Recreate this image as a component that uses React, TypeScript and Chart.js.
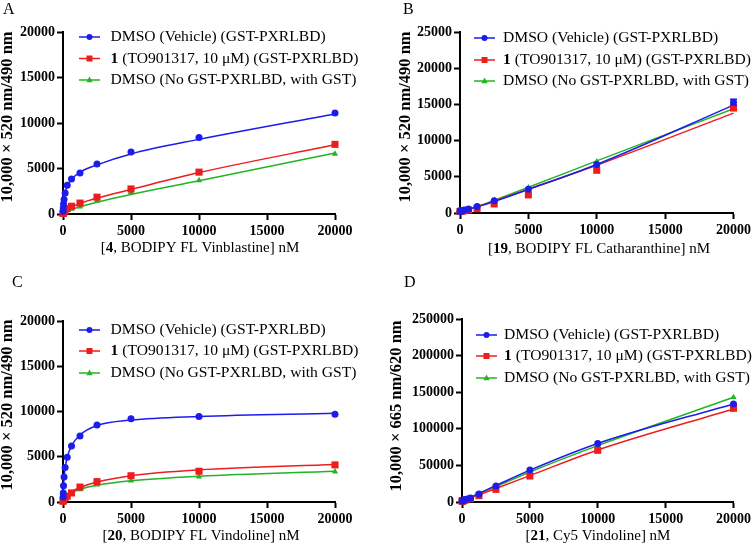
import React, { useEffect, useRef } from "react";
import { Chart, registerables } from "chart.js";
Chart.register(...registerables);

const FONT = '"Liberation Serif", "Times New Roman", serif';
const BLUE = "#1c1ceb";
const RED = "#ee1d1d";
const GREEN = "#22b422";

// concentrations (nM) of the measured points
const conc = [9.77, 19.5, 39.1, 78.1, 156, 312, 625, 1250, 2500, 5000, 10000, 20000];
// concentrations at which the fitted curves were read
const fitConc = [0, 9.77, 19.5, 39.1, 78.1, 156, 312, 625, 1250, 2500, 5000, 10000, 20000];

const seriesPrefix = ["", "1", ""];
const seriesLabels = [
  "DMSO (Vehicle) (GST-PXRLBD)",
  " (TO901317, 10 \u03bcM) (GST-PXRLBD)",
  "DMSO (No GST-PXRLBD, with GST)",
];

// Panel A: BODIPY FL Vinblastine
const A_vehicle = [300, 650, 1100, 1600, 2300, 3150, 3850, 4500, 5500, 6800, 8400, 11100];
const A_to901317 = [60, 100, 160, 250, 380, 600, 850, 1200, 1850, 2750, 4600, 7650];
const A_gst = [40, 70, 110, 180, 280, 420, 550, 800, 1450, 2400, 3700, 6600];
const A_vehicleFit = [0, 300, 550, 1000, 1600, 2300, 3100, 3800, 4600, 5400, 6600, 8200, 11000];
const A_to901317Fit = [0, 20, 40, 80, 150, 270, 460, 750, 1150, 1750, 2700, 4550, 7600];
const A_gstFit = [0, 15, 30, 60, 110, 190, 310, 500, 800, 1300, 2150, 3650, 6700];

// Panel B: BODIPY FL Catharanthine
const B_vehicle = [250, 260, 270, 290, 320, 400, 550, 900, 1700, 3270, 6700, 15300];
const B_vehicleErr = [0, 0, 0, 0, 0, 0, 0, 0, 0, 0, 0, 400];
const B_to901317 = [200, 210, 220, 240, 270, 320, 400, 600, 1250, 2500, 5900, 14500];
const B_gst = [230, 240, 250, 270, 300, 370, 500, 850, 1750, 3500, 7100, 14400];
const B_vehicleFit = [200, 205, 210, 220, 240, 280, 360, 520, 850, 1600, 3250, 6700, 14900];
const B_to901317Fit = [200, 205, 210, 220, 240, 280, 360, 530, 870, 1650, 3300, 6600, 13800];
const B_gstFit = [200, 205, 210, 220, 245, 290, 380, 560, 920, 1750, 3550, 7200, 14400];

// Panel C: BODIPY FL Vindoline
const C_vehicle = [550, 1000, 1800, 2750, 3800, 4950, 6200, 7300, 8500, 9200, 9450, 9700];
const C_to901317 = [80, 150, 250, 400, 500, 650, 1000, 1650, 2250, 2900, 3400, 4100];
const C_gst = [60, 120, 200, 300, 400, 500, 900, 1400, 1900, 2350, 2800, 3350];
const C_vehicleFit = [0, 550, 1000, 1750, 2700, 3750, 4950, 6200, 7400, 8450, 9050, 9450, 9800];
const C_to901317Fit = [0, 40, 80, 150, 280, 500, 800, 1150, 1600, 2200, 2900, 3550, 4150];
const C_gstFit = [0, 35, 70, 130, 240, 420, 680, 1000, 1400, 1850, 2350, 2850, 3400];

// Panel D: Cy5 Vindoline
const D_vehicle = [1500, 1800, 2000, 2300, 2700, 3600, 5500, 10900, 21900, 43700, 80000, 134000];
const D_to901317 = [1200, 1400, 1600, 1800, 2200, 3000, 4500, 8700, 17300, 35500, 70600, 128000];
const D_gst = [1300, 1600, 1800, 2100, 2500, 3300, 5200, 10000, 20000, 41000, 77000, 143000];
const D_vehicleFit = [1200, 1285, 1370, 1540, 1880, 2560, 3900, 6600, 11800, 22500, 43500, 80000, 134000];
const D_to901317Fit = [1000, 1070, 1140, 1290, 1570, 2140, 3280, 5500, 9800, 18500, 36000, 71000, 127000];
const D_gstFit = [1100, 1180, 1260, 1420, 1740, 2400, 3700, 6300, 11300, 21000, 41000, 77000, 143000];

const W = 377;
const H = 273;

type Panel = {
  letter: string;
  letterPos: [number, number];
  xBold: string;
  xRest: string;
  xTitlePos: [number, number];
  yTitle: string;
  yTitlePos: [number, number];
  yMax: number;
  yStep: number;
  area: { left: number; right: number; top: number; bottom: number };
  legend: { x: number; textX: number; rows: number[] };
  points: number[][];
  fits: number[][];
  errors?: (number[] | null)[];
};

const panels: Panel[] = [
  {
    letter: "A",
    letterPos: [3, 13.5],
    xBold: "4",
    xRest: ", BODIPY FL Vinblastine] nM",
    xTitlePos: [200, 248],
    yTitle: "10,000 \u00d7 520 nm/490 nm",
    yTitlePos: [8, 117],
    yMax: 20000,
    yStep: 5000,
    area: { left: 63, right: 335, top: 32, bottom: 214 },
    legend: { x: 79, textX: 110.5, rows: [37, 58.5, 80] },
    points: [A_vehicle, A_to901317, A_gst],
    fits: [A_vehicleFit, A_to901317Fit, A_gstFit],
  },
  {
    letter: "B",
    letterPos: [26, 13.5],
    xBold: "19",
    xRest: ", BODIPY FL Catharanthine] nM",
    xTitlePos: [222, 249],
    yTitle: "10,000 \u00d7 520 nm/490 nm",
    yTitlePos: [28.5, 117],
    yMax: 25000,
    yStep: 5000,
    area: { left: 83, right: 357, top: 32, bottom: 213 },
    legend: { x: 97, textX: 126, rows: [38, 60, 81] },
    points: [B_vehicle, B_to901317, B_gst],
    fits: [B_vehicleFit, B_to901317Fit, B_gstFit],
    errors: [B_vehicleErr, null, null],
  },
  {
    letter: "C",
    letterPos: [12, 14],
    xBold: "20",
    xRest: ", BODIPY FL Vindoline] nM",
    xTitlePos: [201, 263],
    yTitle: "10,000 \u00d7 520 nm/490 nm",
    yTitlePos: [8, 132],
    yMax: 20000,
    yStep: 5000,
    area: { left: 63, right: 335, top: 48, bottom: 229 },
    legend: { x: 79, textX: 110.5, rows: [57, 78, 100] },
    points: [C_vehicle, C_to901317, C_gst],
    fits: [C_vehicleFit, C_to901317Fit, C_gstFit],
  },
  {
    letter: "D",
    letterPos: [27, 14],
    xBold: "21",
    xRest: ", Cy5 Vindoline] nM",
    xTitlePos: [221, 263],
    yTitle: "10,000 \u00d7 665 nm/620 nm",
    yTitlePos: [19.5, 133],
    yMax: 250000,
    yStep: 50000,
    area: { left: 85, right: 357, top: 46, bottom: 229 },
    legend: { x: 99, textX: 127, rows: [62, 83, 105] },
    points: [D_vehicle, D_to901317, D_gst],
    fits: [D_vehicleFit, D_to901317Fit, D_gstFit],
  },
];

const colors = [BLUE, RED, GREEN];
const styles = ["circle", "rect", "triangle"];
const radii = [3.5, 5, 3.6];
const LEGEND_FONT_SIZE = 15.6;

function drawMarker(ctx: CanvasRenderingContext2D, style: string, x: number, y: number, color: string) {
  ctx.fillStyle = color;
  ctx.beginPath();
  if (style === "circle") {
    ctx.arc(x, y, 3, 0, Math.PI * 2);
  } else if (style === "rect") {
    ctx.rect(x - 3, y - 3, 6, 6);
  } else {
    ctx.moveTo(x, y - 3.5);
    ctx.lineTo(x + 3.2, y + 2.2);
    ctx.lineTo(x - 3.2, y + 2.2);
    ctx.closePath();
  }
  ctx.fill();
}

function PanelChart({ p }: { p: Panel }) {
  const ref = useRef<HTMLCanvasElement | null>(null);
  useEffect(() => {
    if (!ref.current) return;
    const datasets: any[] = [];
    p.fits.forEach((f, i) => {
      datasets.push({
        data: fitConc.map((x, k) => ({ x, y: f[k] })),
        borderColor: colors[i],
        borderWidth: 1.5,
        pointRadius: 0,
        cubicInterpolationMode: "monotone",
        clip: false,
        order: 2,
      });
    });
    p.points.forEach((pts, i) => {
      datasets.push({
        data: conc.map((x, k) => ({ x, y: pts[k] })),
        showLine: false,
        pointStyle: styles[i],
        pointRadius: radii[i],
        pointBackgroundColor: colors[i],
        pointBorderColor: colors[i],
        pointBorderWidth: 0,
        clip: false,
        order: 1,
      });
    });

    const textPlugin = {
      id: "panelText",
      afterDatasetsDraw(chart: any) {
        const ctx: CanvasRenderingContext2D = chart.ctx;
        const xs = chart.scales.x;
        const ys = chart.scales.y;
        ctx.save();
        if (p.errors) {
          p.errors.forEach((e, i) => {
            if (!e) return;
            ctx.strokeStyle = colors[i];
            ctx.lineWidth = 1.5;
            e.forEach((err, k) => {
              if (!err) return;
              const px = xs.getPixelForValue(conc[k]);
              const y1 = ys.getPixelForValue(p.points[i][k] + err);
              const y0 = ys.getPixelForValue(p.points[i][k] - err);
              ctx.beginPath();
              ctx.moveTo(px, y0);
              ctx.lineTo(px, y1);
              ctx.moveTo(px - 3.5, y1);
              ctx.lineTo(px + 3.5, y1);
              ctx.moveTo(px - 3.5, y0);
              ctx.lineTo(px + 3.5, y0);
              ctx.stroke();
            });
          });
        }
        ctx.restore();
      },
      afterDraw(chart: any) {
        const ctx: CanvasRenderingContext2D = chart.ctx;
        ctx.save();
        ctx.fillStyle = "#000";
        ctx.font = `16px ${FONT}`;
        ctx.textAlign = "left";
        ctx.textBaseline = "alphabetic";
        ctx.fillText(p.letter, p.letterPos[0], p.letterPos[1]);

        ctx.save();
        ctx.translate(p.yTitlePos[0], p.yTitlePos[1]);
        ctx.rotate(-Math.PI / 2);
        ctx.font = `bold 16.5px ${FONT}`;
        ctx.textAlign = "center";
        ctx.textBaseline = "middle";
        ctx.fillText(p.yTitle, 0, 0);
        ctx.restore();

        ctx.textBaseline = "middle";
        ctx.textAlign = "left";
        ctx.font = `15px ${FONT}`;
        const w1 = ctx.measureText("[").width;
        const w3 = ctx.measureText(p.xRest).width;
        ctx.font = `bold 15px ${FONT}`;
        const w2 = ctx.measureText(p.xBold).width;
        const x0 = p.xTitlePos[0] - (w1 + w2 + w3) / 2;
        const y0 = p.xTitlePos[1];
        ctx.font = `15px ${FONT}`;
        ctx.fillText("[", x0, y0);
        ctx.font = `bold 15px ${FONT}`;
        ctx.fillText(p.xBold, x0 + w1, y0);
        ctx.font = `15px ${FONT}`;
        ctx.fillText(p.xRest, x0 + w1 + w2, y0);

        p.legend.rows.forEach((ry, i) => {
          const lx = p.legend.x;
          ctx.strokeStyle = colors[i];
          ctx.lineWidth = 1.5;
          ctx.beginPath();
          ctx.moveTo(lx, ry);
          ctx.lineTo(lx + 21, ry);
          ctx.stroke();
          drawMarker(ctx, styles[i], lx + 10.5, ry, colors[i]);
          ctx.fillStyle = "#000";
          let tx = p.legend.textX;
          if (seriesPrefix[i]) {
            ctx.font = `bold ${LEGEND_FONT_SIZE}px ${FONT}`;
            ctx.fillText(seriesPrefix[i], tx, ry);
            tx += ctx.measureText(seriesPrefix[i]).width;
          }
          ctx.font = `${LEGEND_FONT_SIZE}px ${FONT}`;
          ctx.fillText(seriesLabels[i], tx, ry);
        });
        ctx.restore();
      },
    };

    const tickFont = { family: FONT, size: 14, weight: "bold" as const };
    const chart = new Chart(ref.current, {
      type: "line",
      data: { datasets },
      options: {
        animation: false,
        responsive: false,
        maintainAspectRatio: false,
        layout: {
          padding: { left: 0, top: p.area.top, right: W - p.area.right, bottom: 0 },
        },
        plugins: { legend: { display: false }, tooltip: { enabled: false }, title: { display: false } },
        scales: {
          x: {
            type: "linear",
            min: 0,
            max: 20000,
            afterFit: (s: any) => {
              s.height = H - p.area.bottom;
            },
            ticks: {
              stepSize: 5000,
              autoSkip: false,
              maxRotation: 0,
              color: "#000",
              font: tickFont,
              padding: 3,
              callback: (v: any) => String(v),
            },
            grid: { display: true, drawOnChartArea: false, drawTicks: true, tickLength: 6, tickColor: "#000", tickWidth: 2 },
            border: { display: true, color: "#000", width: 2 },
          },
          y: {
            type: "linear",
            min: 0,
            max: p.yMax,
            afterFit: (s: any) => {
              s.width = p.area.left;
            },
            ticks: {
              stepSize: p.yStep,
              autoSkip: false,
              color: "#000",
              font: tickFont,
              padding: 2,
              callback: (v: any) => String(v),
            },
            grid: { display: true, drawOnChartArea: false, drawTicks: true, tickLength: 6, tickColor: "#000", tickWidth: 2 },
            border: { display: true, color: "#000", width: 2 },
          },
        },
      },
      plugins: [textPlugin],
    } as any);
    return () => chart.destroy();
  }, [p]);
  return <canvas ref={ref} width={W} height={H} style={{ display: "block", width: W, height: H }} />;
}

export default function App() {
  return (
    <div
      style={{
        position: "absolute",
        left: 0,
        top: 0,
        width: 754,
        height: 546,
        background: "#fff",
        display: "grid",
        gridTemplateColumns: `${W}px ${W}px`,
        gridTemplateRows: `${H}px ${H}px`,
      }}
    >
      {panels.map((p) => (
        <PanelChart key={p.letter} p={p} />
      ))}
    </div>
  );
}
